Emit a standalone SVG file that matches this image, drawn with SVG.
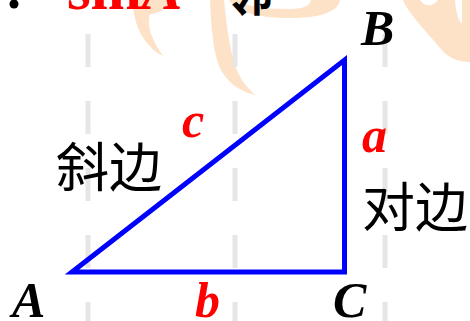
<svg xmlns="http://www.w3.org/2000/svg" width="470" height="321" viewBox="0 0 470 321">
<style>
.wm{fill:#fde2c7;stroke:none}
.grid{stroke:#e6e6e6;stroke-width:5;stroke-dasharray:33 34}
.lbl{font-family:"Liberation Serif","Times New Roman",serif;font-weight:bold;font-style:italic;font-size:50px}
.blk{fill:#000}
.red{fill:#ff0000}
.cjk{font-family:"Noto Sans CJK SC","Noto Sans",sans-serif;font-size:53px;fill:#000}
</style>
<rect width="470" height="321" fill="#ffffff"/>
<g id="watermark">
<path class="wm" d="M132,0 L172,0 C168,8 158,14 150,14 C146,26 152,40 163,56 C150,50 140,36 136,22 C134,14 132,6 132,0 Z"/>
<path class="wm" d="M210,0 L224,0 C226,20 229,45 234,62 C238,76 246,88 256,95 C240,92 226,82 219,66 C213,50 211,25 210,0 Z"/>
<path class="wm" d="M229,0 L240,0 C244,6 262,9 290,9 C305,9 310,5 311,0 L340,0 C338,12 320,18 290,18 C258,18 236,12 229,0 Z"/>
<path class="wm" d="M403,0 L420,0 C424,6 432,8 438,0 L455,0 C456,12 458,20 462,24 L462,0 L470,0 L470,62 C458,62 448,58 440,48 C432,38 422,28 416,20 C410,12 405,6 403,0 Z"/>
</g>
<g id="grid">
<line class="grid" x1="88" y1="34" x2="88" y2="321"/>
<line class="grid" x1="235" y1="34" x2="235" y2="321"/>
<line class="grid" x1="385" y1="34" x2="385" y2="321"/>
</g>
<g id="heading">
<circle cx="14" cy="4" r="4.5" fill="#000"/>
<text x="67" y="9" font-family="Liberation Serif,serif" font-weight="bold" font-size="61" fill="#ff0000">sin<tspan font-style="italic">A</tspan></text>
<text x="225" y="11" font-family="Noto Sans CJK SC,sans-serif" font-weight="bold" font-size="48" fill="#000">邻</text>
</g>
<g id="connectors">
<polygon points="72,272 344.5,60 344.5,272" fill="none" stroke="#0000ff" stroke-width="5" stroke-linejoin="miter" stroke-miterlimit="10"/>
</g>
<g id="node-A"><text class="lbl blk" x="12" y="317">A</text></g>
<g id="node-B"><text class="lbl blk" x="361" y="45">B</text></g>
<g id="node-C"><text class="lbl blk" x="333" y="317">C</text></g>
<g id="label-a"><text class="lbl red" x="362" y="152">a</text></g>
<g id="label-b"><text class="lbl red" x="195" y="317">b</text></g>
<g id="label-c"><text class="lbl red" x="182" y="137">c</text></g>
<g id="label-hyp"><text class="cjk" x="56" y="187">斜边</text></g>
<g id="label-opp"><text class="cjk" x="362" y="227">对边</text></g>
</svg>
